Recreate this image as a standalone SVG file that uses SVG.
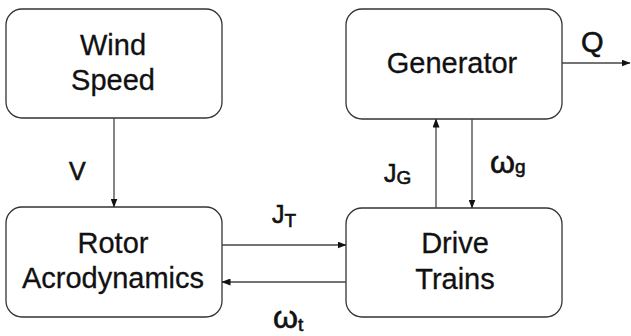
<svg xmlns="http://www.w3.org/2000/svg" width="631" height="336" viewBox="0 0 631 336">
  <style>
    .box { fill: #ffffff; stroke: #333333; stroke-width: 1.3; }
    .t { font-family: "Liberation Sans", Arial, sans-serif; font-size: 29px; fill: #111111; text-anchor: middle; stroke: #111111; stroke-width: 0.3; }
    .lbl { font-family: "Liberation Sans", Arial, sans-serif; font-size: 25px; fill: #111111; stroke: #111111; stroke-width: 0.6; }
    .big { font-size: 32px; }
    .sub { font-size: 19px; }
    .wire { stroke: #444444; stroke-width: 1.3; fill: none; marker-end: url(#arrow); }
  </style>
  <defs>
    <marker id="arrow" markerWidth="9" markerHeight="7" refX="8.5" refY="3.5" orient="auto" markerUnits="userSpaceOnUse">
      <path d="M0,0 L9,3.5 L0,7 Z" fill="#111111"/>
    </marker>
  </defs>
  <rect width="631" height="336" fill="#ffffff"/>

  <g id="wind-speed">
    <rect class="box" x="6" y="9" width="216" height="109" rx="16"/>
    <text class="t" x="113" y="55">Wind</text>
    <text class="t" x="113" y="90">Speed</text>
  </g>

  <g id="rotor">
    <rect class="box" x="6" y="207" width="216" height="110" rx="16"/>
    <text class="t" x="113" y="253">Rotor</text>
    <text class="t" x="113" y="288">Acrodynamics</text>
  </g>

  <g id="generator">
    <rect class="box" x="346" y="9" width="216" height="110" rx="16"/>
    <text class="t" x="452" y="73">Generator</text>
  </g>

  <g id="drive-trains">
    <rect class="box" x="346" y="208" width="216" height="109" rx="16"/>
    <text class="t" x="455" y="253">Drive</text>
    <text class="t" x="455" y="289">Trains</text>
  </g>

  <g id="connectors">
    <line class="wire" x1="114" y1="118" x2="114" y2="207"/>
    <line class="wire" x1="222" y1="245" x2="346" y2="245"/>
    <line class="wire" x1="346" y1="282" x2="222" y2="282"/>
    <line class="wire" x1="436" y1="208" x2="436" y2="119"/>
    <line class="wire" x1="472" y1="119" x2="472" y2="208"/>
    <line class="wire" x1="562" y1="63" x2="630" y2="63"/>
  </g>

  <g id="labels">
    <text class="lbl" x="69" y="180">V</text>
    <text class="lbl" x="272" y="223">J<tspan class="sub" dy="4">T</tspan></text>
    <text class="lbl big" x="273" y="328">ω<tspan class="sub" dy="3">t</tspan></text>
    <text class="lbl" x="384" y="182">J<tspan class="sub" dy="2">G</tspan></text>
    <text class="lbl big" x="490" y="173">ω<tspan class="sub" dy="0">g</tspan></text>
    <text class="lbl" x="581" y="52" style="font-size:29px">Q</text>
  </g>
</svg>
